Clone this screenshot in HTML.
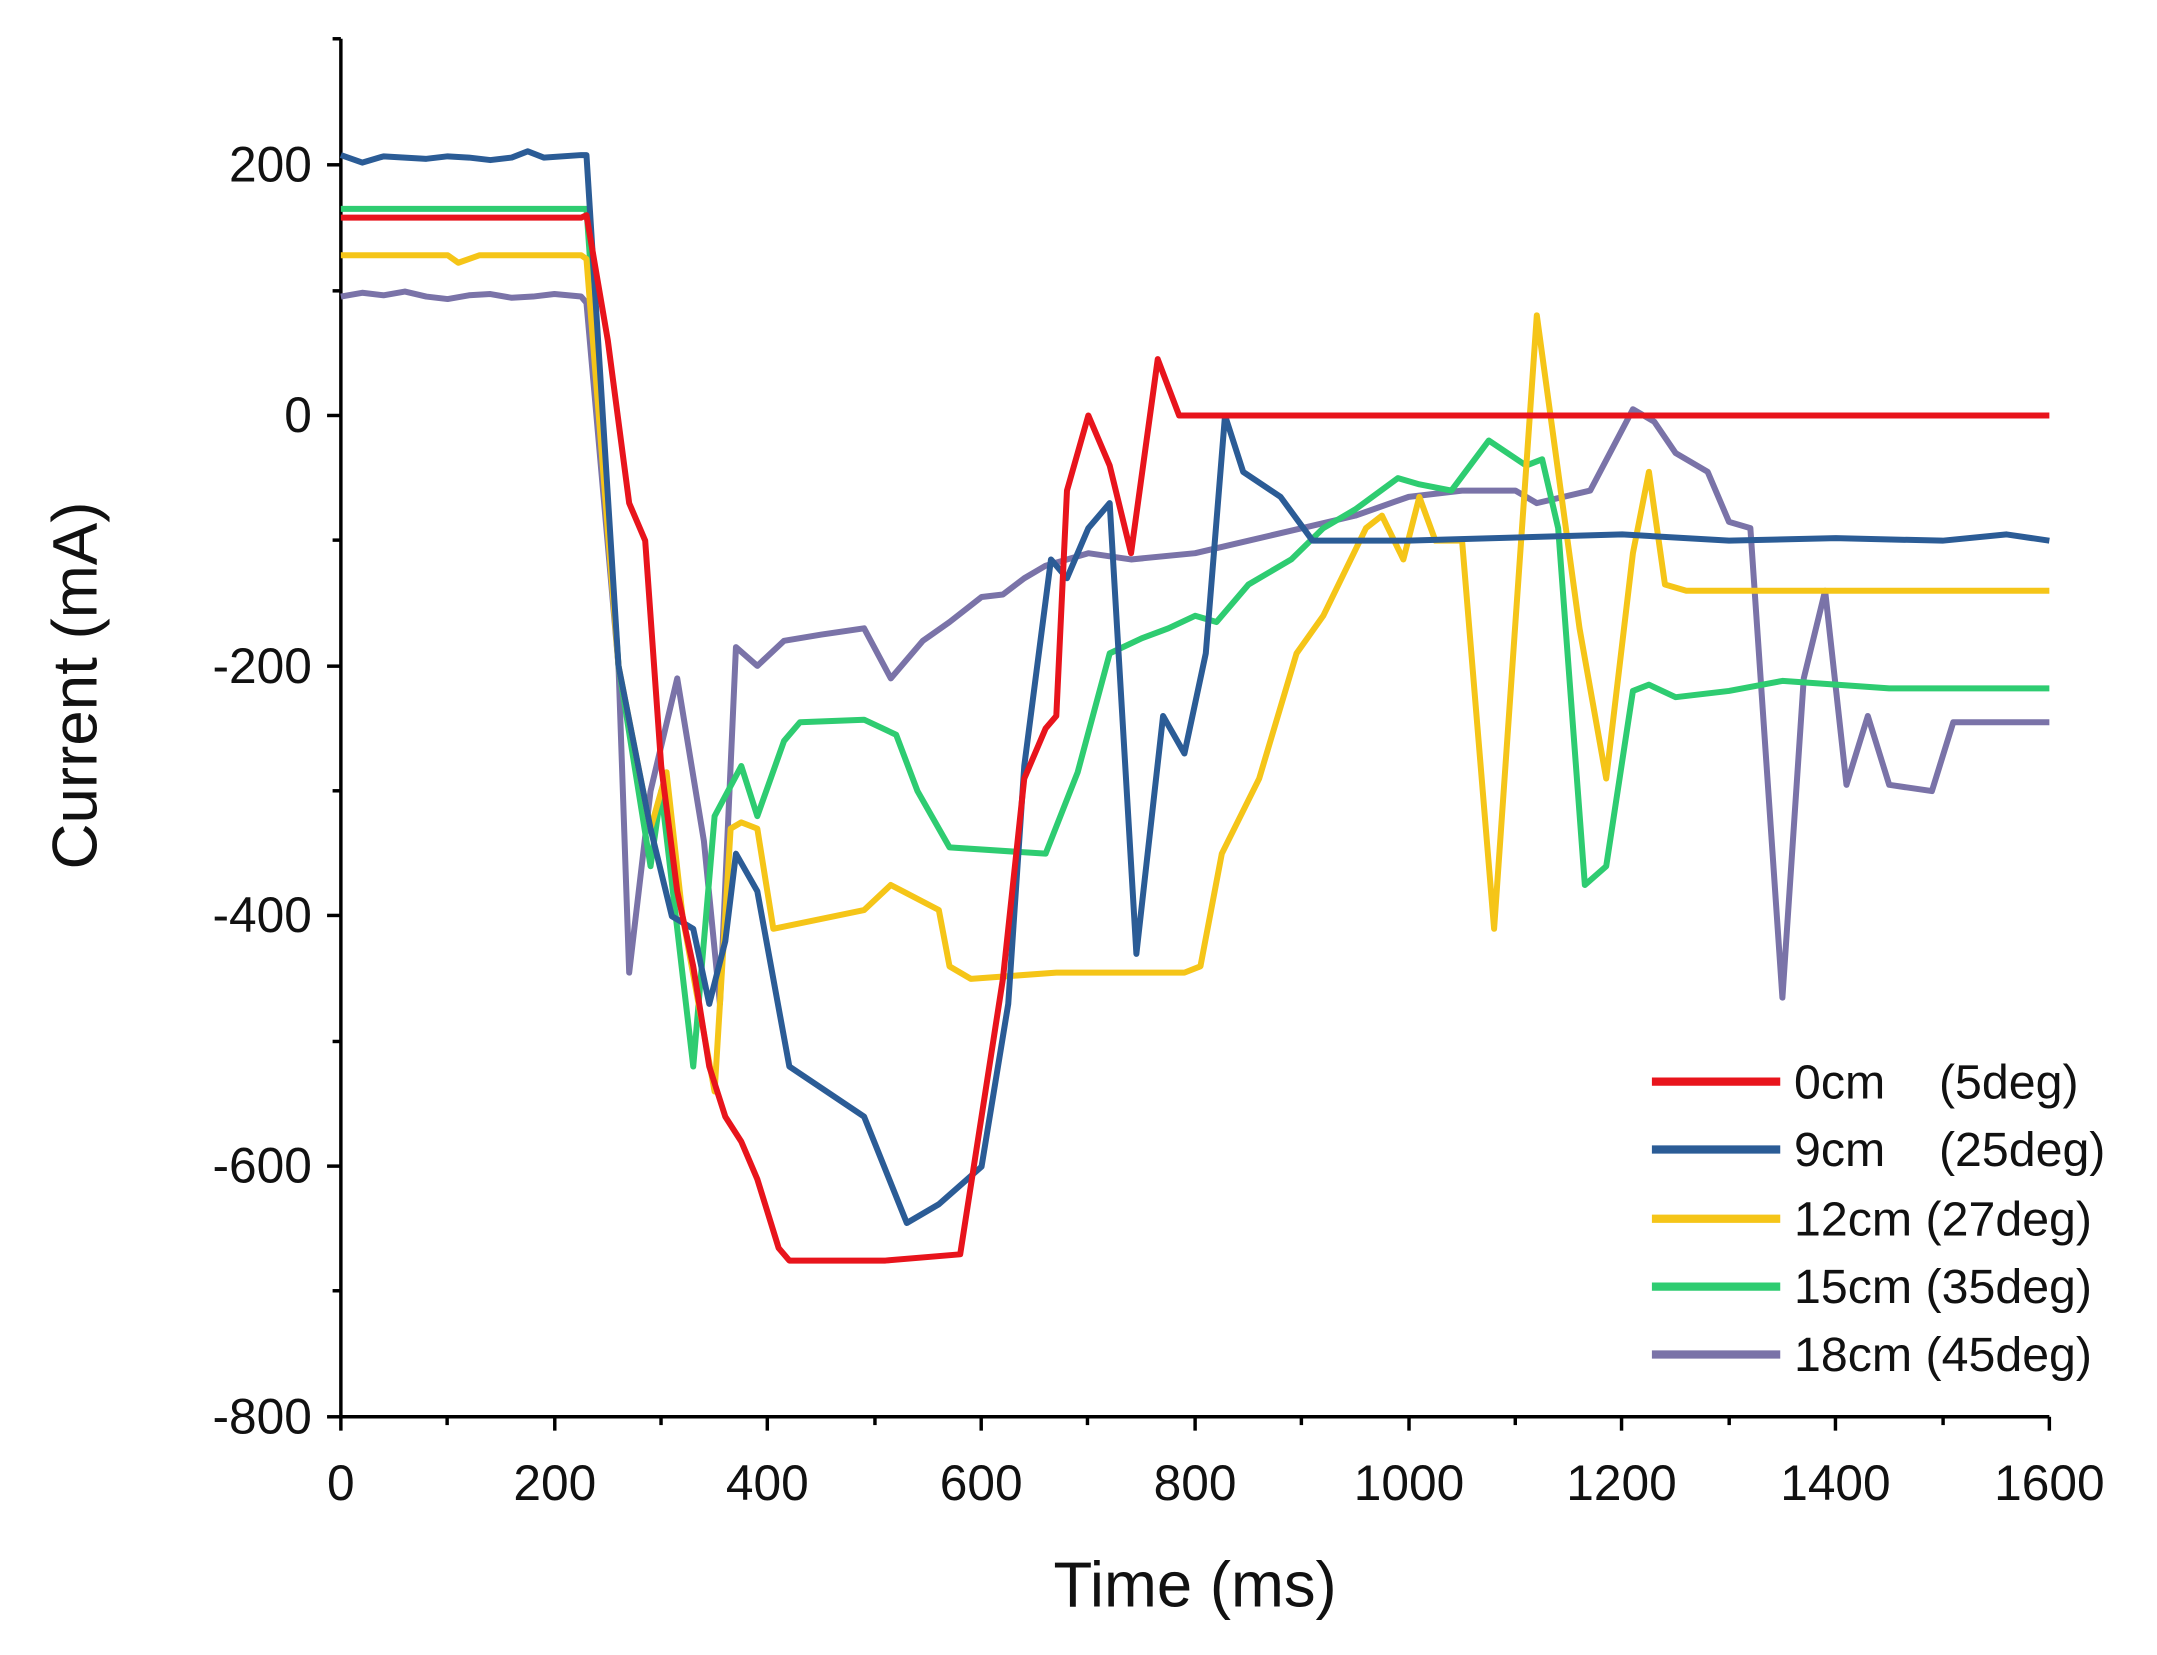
<!DOCTYPE html>
<html><head><style>html,body{margin:0;padding:0;background:#fff}svg{display:block}</style></head>
<body>
<svg width="2157" height="1655" viewBox="0 0 1563 1195" preserveAspectRatio="none" xmlns="http://www.w3.org/2000/svg" font-family="Liberation Sans, sans-serif">
<g stroke="#000" stroke-width="2.5" fill="none">
<line x1="247" y1="28" x2="247" y2="1023"/>
<line x1="247" y1="1023" x2="1485" y2="1023"/>
<line x1="237" y1="119" x2="247" y2="119"/><line x1="237" y1="300" x2="247" y2="300"/><line x1="237" y1="481" x2="247" y2="481"/><line x1="237" y1="661" x2="247" y2="661"/><line x1="237" y1="842" x2="247" y2="842"/><line x1="237" y1="1023" x2="247" y2="1023"/>
<line x1="241" y1="28" x2="247" y2="28"/><line x1="241" y1="210" x2="247" y2="210"/><line x1="241" y1="390" x2="247" y2="390"/><line x1="241" y1="571" x2="247" y2="571"/><line x1="241" y1="752" x2="247" y2="752"/><line x1="241" y1="932" x2="247" y2="932"/>
<line x1="247" y1="1023" x2="247" y2="1033"/><line x1="402" y1="1023" x2="402" y2="1033"/><line x1="556" y1="1023" x2="556" y2="1033"/><line x1="711" y1="1023" x2="711" y2="1033"/><line x1="866" y1="1023" x2="866" y2="1033"/><line x1="1021" y1="1023" x2="1021" y2="1033"/><line x1="1175" y1="1023" x2="1175" y2="1033"/><line x1="1330" y1="1023" x2="1330" y2="1033"/><line x1="1485" y1="1023" x2="1485" y2="1033"/>
<line x1="324" y1="1023" x2="324" y2="1029"/><line x1="479" y1="1023" x2="479" y2="1029"/><line x1="634" y1="1023" x2="634" y2="1029"/><line x1="788" y1="1023" x2="788" y2="1029"/><line x1="943" y1="1023" x2="943" y2="1029"/><line x1="1098" y1="1023" x2="1098" y2="1029"/><line x1="1253" y1="1023" x2="1253" y2="1029"/><line x1="1408" y1="1023" x2="1408" y2="1029"/>
</g>
<g font-size="36" fill="#111" text-anchor="end">
<text x="226" y="131">200</text><text x="226" y="312">0</text><text x="226" y="493">-200</text><text x="226" y="673">-400</text><text x="226" y="854">-600</text><text x="226" y="1035">-800</text>
</g>
<g font-size="36" fill="#111" text-anchor="middle">
<text x="247" y="1083">0</text><text x="402" y="1083">200</text><text x="556" y="1083">400</text><text x="711" y="1083">600</text><text x="866" y="1083">800</text><text x="1021" y="1083">1000</text><text x="1175" y="1083">1200</text><text x="1330" y="1083">1400</text><text x="1485" y="1083">1600</text>
</g>
<text x="866" y="1160" font-size="46" text-anchor="middle" fill="#111">Time (ms)</text>
<text transform="translate(70,495) rotate(-90)" font-size="46" text-anchor="middle" fill="#111">Current (mA)</text>
<g transform="translate(247,300) scale(0.77375,-0.904)" fill="none" stroke-width="6" stroke-linejoin="round">
<polyline vector-effect="non-scaling-stroke" stroke="#7a73a8" points="0,95 20,98 40,96 60,99 80,95 100,93 120,96 140,97 160,94 180,95 200,97 225,95 230,90 260,-200 270,-445 290,-300 315,-210 340,-340 355,-470 370,-185 390,-200 415,-180 450,-175 490,-170 515,-210 545,-180 570,-165 600,-145 620,-143 640,-130 660,-120 700,-110 740,-115 800,-110 850,-100 900,-90 950,-80 1000,-65 1050,-60 1100,-60 1120,-70 1170,-60 1210,5 1230,-5 1250,-30 1280,-45 1300,-85 1320,-90 1350,-465 1370,-210 1390,-140 1410,-295 1430,-240 1450,-295 1490,-300 1510,-245 1600,-245"/>
<polyline vector-effect="non-scaling-stroke" stroke="#2ecc71" points="0,165 230,165 260,-200 290,-360 300,-300 330,-520 350,-320 375,-280 390,-320 415,-260 430,-245 490,-243 520,-255 540,-300 570,-345 660,-350 690,-285 720,-190 750,-178 775,-170 800,-160 820,-165 850,-135 890,-115 920,-90 950,-75 990,-50 1010,-55 1040,-60 1075,-20 1110,-40 1125,-35 1140,-90 1165,-375 1185,-360 1210,-220 1225,-215 1250,-225 1300,-220 1350,-212 1450,-218 1600,-218"/>
<polyline vector-effect="non-scaling-stroke" stroke="#f5c518" points="0,128 100,128 110,122 130,128 225,128 230,125 260,-200 290,-330 305,-285 320,-400 350,-540 365,-330 375,-325 390,-330 405,-410 490,-395 515,-375 560,-395 570,-440 590,-450 670,-445 790,-445 805,-440 825,-350 860,-290 895,-190 920,-160 960,-90 975,-80 995,-115 1010,-65 1025,-100 1050,-100 1080,-410 1120,80 1160,-170 1185,-290 1210,-110 1225,-45 1240,-135 1260,-140 1600,-140"/>
<polyline vector-effect="non-scaling-stroke" stroke="#2b5c96" points="0,208 20,202 40,207 60,206 80,205 100,207 120,206 140,204 160,206 175,211 190,206 225,208 230,208 260,-200 290,-330 310,-400 330,-410 345,-470 360,-420 370,-350 390,-380 420,-520 490,-560 530,-645 560,-630 600,-600 625,-470 640,-280 665,-115 680,-130 700,-90 720,-70 745,-430 770,-240 790,-270 810,-190 828,0 845,-45 880,-65 910,-100 1000,-100 1200,-95 1300,-100 1400,-98 1500,-100 1560,-95 1600,-100"/>
<polyline vector-effect="non-scaling-stroke" stroke="#e8141c" points="0,158 225,158 230,160 250,60 270,-70 285,-100 300,-280 315,-380 330,-440 345,-520 360,-560 375,-580 390,-610 410,-665 420,-675 510,-675 580,-670 600,-560 620,-450 640,-290 660,-250 670,-240 680,-60 700,0 720,-40 740,-110 765,45 785,0 1600,0"/>
</g>
<g stroke-width="6">
<line x1="1197" y1="781" x2="1290" y2="781" stroke="#e8141c"/>
<line x1="1197" y1="830" x2="1290" y2="830" stroke="#2b5c96"/>
<line x1="1197" y1="880" x2="1290" y2="880" stroke="#f5c518"/>
<line x1="1197" y1="929" x2="1290" y2="929" stroke="#2ecc71"/>
<line x1="1197" y1="978" x2="1290" y2="978" stroke="#7a73a8"/>
</g>
<g font-size="35" fill="#111">
<text x="1300" y="793">0cm</text><text x="1405" y="793">(5deg)</text>
<text x="1300" y="842">9cm</text><text x="1405" y="842">(25deg)</text>
<text x="1300" y="892">12cm (27deg)</text>
<text x="1300" y="941">15cm (35deg)</text>
<text x="1300" y="990">18cm (45deg)</text>
</g>
</svg>
</body></html>
